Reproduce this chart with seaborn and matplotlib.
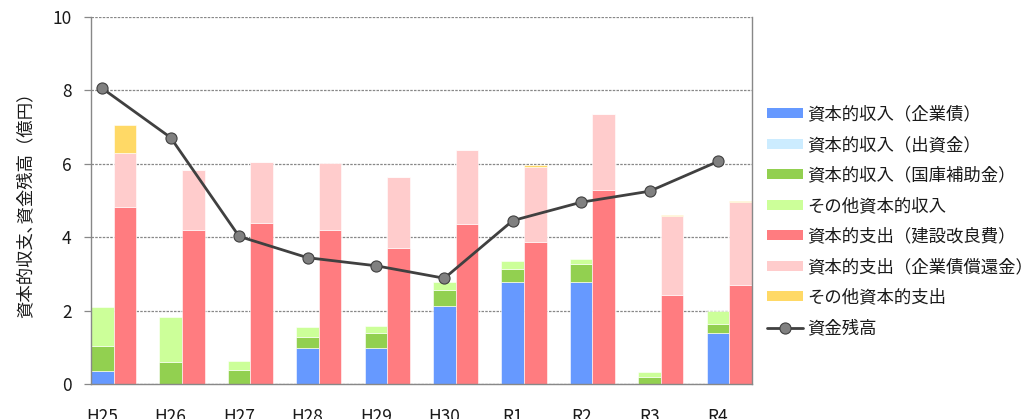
import numpy as np
import pandas as pd
import matplotlib
matplotlib.use("Agg")
import matplotlib.pyplot as plt
from matplotlib.patches import Patch
from matplotlib.lines import Line2D
import seaborn as sns

# ---- data (億円) ----
years = ["H25", "H26", "H27", "H28", "H29", "H30", "R1", "R2", "R3", "R4"]
inc_bonds = [0.36, 0.00, 0.00, 0.97, 0.97, 2.13, 2.79, 2.79, 0.00, 1.40]
inc_capital = [0, 0, 0, 0, 0, 0, 0, 0, 0, 0]
inc_subsidy = [0.68, 0.59, 0.39, 0.31, 0.43, 0.43, 0.33, 0.49, 0.20, 0.23]
inc_other = [1.06, 1.23, 0.24, 0.27, 0.19, 0.23, 0.24, 0.12, 0.13, 0.35]
exp_construction = [4.82, 4.20, 4.39, 4.20, 3.71, 4.36, 3.86, 5.28, 2.43, 2.70]
exp_redemption = [1.47, 1.63, 1.66, 1.81, 1.93, 2.00, 2.06, 2.08, 2.14, 2.26]
exp_other = [0.76, 0.00, 0.00, -0.03, 0.00, 0.00, 0.03, 0.00, 0.03, 0.02]
balance = [8.05, 6.71, 4.02, 3.44, 3.22, 2.88, 4.45, 4.95, 5.25, 6.06]

labels_inc = ["資本的収入（企業債）", "資本的収入（出資金）", "資本的収入（国庫補助金）", "その他資本的収入"]
labels_exp = ["資本的支出（建設改良費）", "資本的支出（企業債償還金）", "その他資本的支出"]
label_bal = "資金残高"

colors_inc = ["#6699FF", "#CCECFF", "#92D050", "#CCFF99"]
colors_exp = ["#FF7C80", "#FFCCCC", "#FFD966"]

sns.set_theme(style="white")
plt.rcParams["font.family"] = ["Noto Sans CJK JP", "DejaVu Sans"]
plt.rcParams["text.color"] = "#1a1a1a"
plt.rcParams["axes.labelcolor"] = "#1a1a1a"
plt.rcParams["xtick.color"] = "#1a1a1a"
plt.rcParams["ytick.color"] = "#1a1a1a"

fig = plt.figure(figsize=(10.30, 4.19), dpi=100)
ax = fig.add_axes([0.0883, 0.0835, 0.6417, 0.8765])

x = np.arange(len(years))
w = 0.33

def stack(ax, xpos, series, colors):
    pos_bottom = np.zeros(len(xpos))
    neg_bottom = np.zeros(len(xpos))
    for vals, c in zip(series, colors):
        v = np.asarray(vals, dtype=float)
        bottom = np.where(v >= 0, pos_bottom, neg_bottom)
        ax.bar(xpos, v, width=w, bottom=bottom, color=c, edgecolor="white",
               linewidth=0.4, zorder=2)
        pos_bottom = pos_bottom + np.where(v >= 0, v, 0)
        neg_bottom = neg_bottom + np.where(v < 0, v, 0)

stack(ax, x, [inc_bonds, inc_capital, inc_subsidy, inc_other], colors_inc)
stack(ax, x + w, [exp_construction, exp_redemption, exp_other], colors_exp)

df = pd.DataFrame({"x": x, "balance": balance})
sns.lineplot(data=df, x="x", y="balance", ax=ax, color="#404040", linewidth=2.0,
             marker="o", markersize=8, markerfacecolor="#808080",
             markeredgecolor="#404040", markeredgewidth=0.8, zorder=4)

ax.set_xlim(-w / 2, len(years) - 1 + w + w / 2)
ax.set_ylim(0, 10)
ax.set_yticks([0, 2, 4, 6, 8, 10])
ax.set_xticks(x)
ax.set_xticklabels(years)
ax.set_xlabel("")
ax.set_ylabel("資本的収支､資金残高（億円）", fontsize=12.5, labelpad=13)
ax.yaxis.grid(True, linestyle=(0, (2, 1)), color="#888888", linewidth=0.9, zorder=0)
ax.xaxis.grid(False)
ax.set_axisbelow(True)
ax.tick_params(axis="y", left=True, length=5, width=0.9, color="#888888",
               labelsize=12.5, pad=9)
ax.tick_params(axis="x", bottom=False, labelsize=12.5, pad=11)
for s in ["left", "bottom", "right"]:
    ax.spines[s].set_color("#888888")
    ax.spines[s].set_linewidth(1.0)
ax.spines["top"].set_visible(False)

handles = [Patch(facecolor=c, edgecolor="none") for c in colors_inc + colors_exp]
handles.append(Line2D([0], [0], color="#404040", linewidth=2.0, marker="o",
                      markersize=8, markerfacecolor="#808080",
                      markeredgecolor="#404040", markeredgewidth=0.8))
fig.legend(handles, labels_inc + labels_exp + [label_bal], loc="upper left",
           bbox_to_anchor=(0.745, 0.748), frameon=False, fontsize=12.5,
           handlelength=2.07, handleheight=0.5, handletextpad=0.25,
           labelspacing=0.72, borderaxespad=0, borderpad=0)

fig.savefig("out.png", dpi=100)
